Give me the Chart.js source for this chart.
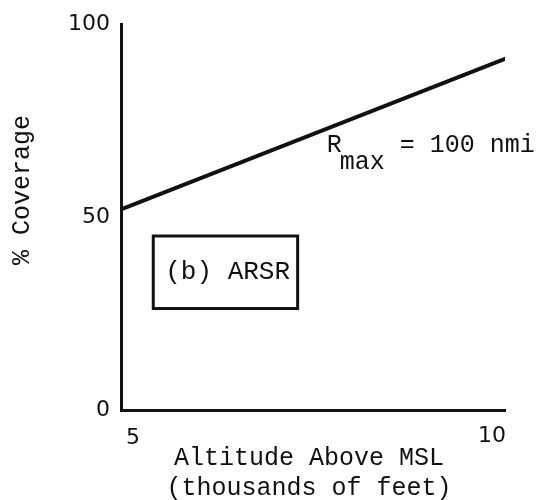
<!DOCTYPE html>
<html>
<head>
<meta charset="utf-8">
<script src="https://cdn.jsdelivr.net/npm/chart.js@4"></script>
<style>
  html, body { margin: 0; background: #fff; }
  #wrap { width: 539px; height: 500px; }
</style>
</head>
<body>
<div id="wrap"><canvas id="coverageChart"></canvas></div>
<script>
// data
const altitudes = [5, 10]          // thousands of feet
const coverage = [52, 91]          // % coverage, Rmax = 100 nmi
const xTicks = [5, 10]
const yTicks = [0, 50, 100]
const yTitle = '% Coverage'
const xTitle = ['Altitude Above MSL', '(thousands of feet)']
const boxLabel = '(b) ARSR'
const curveLabel = { main: 'R', sub: 'max', rest: '= 100 nmi' }

const INK = '#111'
const MONO = '"Liberation Mono", "DejaVu Sans Mono", monospace'
const SANS = '"DejaVu Sans", sans-serif'

// draws the typewriter-style labels that Chart.js can't place itself
const paperText = {
  id: 'paperText',
  afterDraw(chart) {
    const ctx = chart.ctx
    const xs = chart.scales.x
    const ys = chart.scales.y
    const area = chart.chartArea
    ctx.save()
    ctx.fillStyle = INK
    ctx.strokeStyle = INK

    // x tick labels sit just inside the ends of the axis
    ctx.font = '22px ' + SANS
    ctx.textAlign = 'center'
    ctx.textBaseline = 'middle'
    xTicks.forEach((v, i) => {
      const shift = i === 0 ? 12 : -13
      ctx.fillText(String(v), xs.getPixelForValue(v) + shift, area.bottom + (i === 0 ? 28 : 26))
    })

    // x title, two lines
    ctx.font = '25px ' + MONO
    const cx = (area.left + area.right) / 2 - 4
    ctx.fillText(xTitle[0], cx, area.bottom + 48)
    ctx.fillText(xTitle[1], cx, area.bottom + 78)

    // y title, rotated
    ctx.save()
    ctx.translate(22, ys.getPixelForValue(57))
    ctx.rotate(-Math.PI / 2)
    ctx.fillText(yTitle, 0, 0)
    ctx.restore()

    // boxed panel label
    const bx0 = xs.getPixelForValue(5.42)
    const bx1 = xs.getPixelForValue(7.3)
    const by0 = ys.getPixelForValue(45.1)
    const by1 = ys.getPixelForValue(26.3)
    ctx.lineWidth = 3
    ctx.strokeRect(bx0, by0, bx1 - bx0, by1 - by0)
    ctx.font = '26px ' + MONO
    ctx.textAlign = 'left'
    ctx.fillText(boxLabel, bx0 + 12, (by0 + by1) / 2)

    // R_max = 100 nmi
    const lx = xs.getPixelForValue(7.68)
    const ly = ys.getPixelForValue(67)
    ctx.textBaseline = 'alphabetic'
    ctx.font = '25px ' + MONO
    ctx.fillText(curveLabel.main, lx, ly)
    ctx.fillText(curveLabel.sub, lx + 13, ly + 17)
    ctx.fillText(curveLabel.rest, lx + 73, ly)
    ctx.restore()
  }
}

new Chart(document.getElementById('coverageChart'), {
  type: 'line',
  data: {
    datasets: [{
      data: altitudes.map((a, i) => ({ x: a, y: coverage[i] })),
      borderColor: INK,
      borderWidth: 4,
      borderCapStyle: 'round',
      pointRadius: 0,
      tension: 0,
      fill: false
    }]
  },
  options: {
    responsive: true,
    maintainAspectRatio: false,
    animation: false,
    layout: { padding: { top: 22, right: 34, left: 0, bottom: 0 } },
    plugins: { legend: { display: false }, tooltip: { enabled: false } },
    scales: {
      x: {
        type: 'linear',
        min: 5,
        max: 10,
        grid: { display: false, drawTicks: false },
        border: { display: true, color: INK, width: 3 },
        ticks: { display: false },
        afterFit(scale) { scale.height = 90 }
      },
      y: {
        min: 0,
        max: 100,
        grid: { display: false, drawTicks: false },
        border: { display: true, color: INK, width: 3 },
        afterBuildTicks(scale) { scale.ticks = yTicks.map(v => ({ value: v })) },
        ticks: {
          color: INK,
          padding: 11,
          font: { family: SANS, size: 22 }
        },
        afterFit(scale) { scale.width = 121 }
      }
    }
  },
  plugins: [paperText]
})
</script>
</body>
</html>
